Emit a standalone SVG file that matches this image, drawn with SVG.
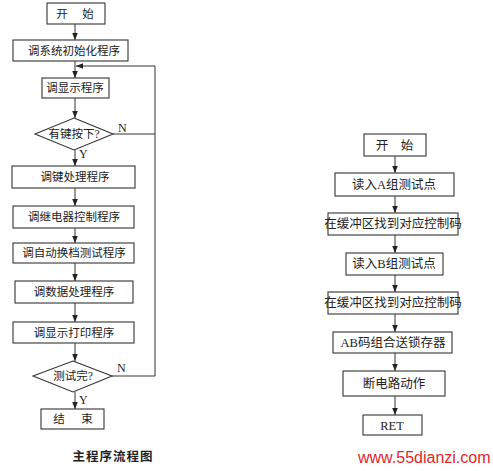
<svg xmlns="http://www.w3.org/2000/svg" width="493" height="471" viewBox="0 0 493 471">
<defs>
<marker id="ah" viewBox="0 0 8 8" refX="8" refY="4" markerWidth="7" markerHeight="7" markerUnits="userSpaceOnUse" orient="auto">
<path d="M0,0.8 L8,4 L0,7.2 Z" fill="#222"/>
</marker>
<style>
.b{fill:#fff;stroke:#333;stroke-width:1.1}
.l{fill:none;stroke:#333;stroke-width:1}
.a{fill:none;stroke:#333;stroke-width:1;marker-end:url(#ah)}
.t{font-family:"Liberation Serif","Noto Sans CJK SC",serif;font-size:11.5px;fill:#222;text-anchor:middle}
.r{font-family:"Liberation Serif","Noto Sans CJK SC",serif;font-size:12.5px;fill:#222;text-anchor:middle}
.yn{font-family:"Liberation Serif",serif;font-size:12px;fill:#222}
</style>
</defs>
<rect width="493" height="471" fill="#fff"/>
<g id="connectors">
<line class="a" x1="75" y1="24" x2="75" y2="40"/>
<line class="a" x1="75" y1="61" x2="75" y2="78"/>
<line class="a" x1="75" y1="98" x2="75" y2="118"/>
<line class="a" x1="75" y1="150" x2="75" y2="166"/>
<line class="a" x1="75" y1="188" x2="75" y2="206"/>
<line class="a" x1="75" y1="228" x2="75" y2="243"/>
<line class="a" x1="75" y1="263" x2="75" y2="281"/>
<line class="a" x1="75" y1="303" x2="75" y2="322"/>
<line class="a" x1="75" y1="343" x2="75" y2="361"/>
<line class="a" x1="75" y1="392" x2="75" y2="409"/>
<line class="l" x1="113" y1="134" x2="155" y2="134"/>
<polyline class="a" points="112,376 155,376 155,66 76,66"/>
<line class="a" x1="395" y1="156" x2="395" y2="173"/>
<line class="a" x1="395" y1="196" x2="395" y2="213"/>
<line class="a" x1="395" y1="235" x2="395" y2="253"/>
<line class="a" x1="395" y1="275" x2="395" y2="292"/>
<line class="a" x1="395" y1="314" x2="395" y2="332"/>
<line class="a" x1="395" y1="353" x2="395" y2="371"/>
<line class="a" x1="395" y1="396" x2="395" y2="415"/>
<text class="yn" x="118" y="132">N</text>
<text class="yn" x="79" y="158">Y</text>
<text class="yn" x="117" y="372">N</text>
<text class="yn" x="79" y="404">Y</text>
</g>
<g id="m_start"><rect class="b" x="47" y="3" width="58" height="21"/><text class="t"><tspan x="62" y="18">开</tspan><tspan x="88" y="18">始</tspan></text></g>
<g id="m_init"><rect class="b" x="13" y="40" width="115" height="21"/><text class="t" x="74" y="55">调系统初始化程序</text></g>
<g id="m_disp"><rect class="b" x="42" y="78" width="67" height="20"/><text class="t" x="75" y="92">调显示程序</text></g>
<g id="m_key_q"><polygon class="b" points="74,118 113,134 74,150 35,134"/><text class="t" x="74" y="138">有键按下?</text></g>
<g id="m_key"><rect class="b" x="12" y="166" width="123" height="22"/><text class="t" x="75" y="181">调键处理程序</text></g>
<g id="m_relay"><rect class="b" x="13" y="206" width="121" height="22"/><text class="t" x="74" y="221">调继电器控制程序</text></g>
<g id="m_auto"><rect class="b" x="13" y="243" width="121" height="20"/><text class="t" x="74" y="257">调自动换档测试程序</text></g>
<g id="m_data"><rect class="b" x="15" y="281" width="118" height="22"/><text class="t" x="74" y="296">调数据处理程序</text></g>
<g id="m_print"><rect class="b" x="13" y="322" width="121" height="21"/><text class="t" x="74" y="337">调显示打印程序</text></g>
<g id="m_done_q"><polygon class="b" points="73,361 112,376 73,392 33,376"/><text class="t" x="73" y="380">测试完?</text></g>
<g id="m_end"><rect class="b" x="41" y="409" width="63" height="20"/><text class="t"><tspan x="59" y="423">结</tspan><tspan x="87" y="423">束</tspan></text></g>
<g id="m_title"><text x="113" y="461" style="font-family:'Noto Sans CJK SC',sans-serif;font-size:12.5px;font-weight:bold;fill:#222;text-anchor:middle;letter-spacing:1px">主程序流程图</text></g>
<g id="s_start"><rect class="b" x="364" y="134" width="62" height="22"/><text class="r"><tspan x="382" y="150">开</tspan><tspan x="407" y="150">始</tspan></text></g>
<g id="s_readA"><rect class="b" x="335" y="173" width="119" height="23"/><text class="r" x="394" y="189">读入A组测试点</text></g>
<g id="s_buf1"><rect class="b" x="328" y="213" width="130" height="22"/><text class="r" x="393" y="228">在缓冲区找到对应控制码</text></g>
<g id="s_readB"><rect class="b" x="346" y="253" width="97" height="22"/><text class="r" x="394" y="268">读入B组测试点</text></g>
<g id="s_buf2"><rect class="b" x="328" y="292" width="130" height="22"/><text class="r" x="393" y="307">在缓冲区找到对应控制码</text></g>
<g id="s_ab"><rect class="b" x="333" y="332" width="119" height="21"/><text class="r" x="393" y="347">AB码组合送锁存器</text></g>
<g id="s_break"><rect class="b" x="343" y="371" width="102" height="25"/><text class="r" x="394" y="388">断电路动作</text></g>
<g id="s_ret"><rect class="b" x="363" y="415" width="59" height="20"/><text class="r" x="392" y="430">RET</text></g>
<text x="358" y="463" style="font-family:'Liberation Sans',sans-serif;font-size:16px;fill:#e0262b">www.55dianzi.com</text>
</svg>
